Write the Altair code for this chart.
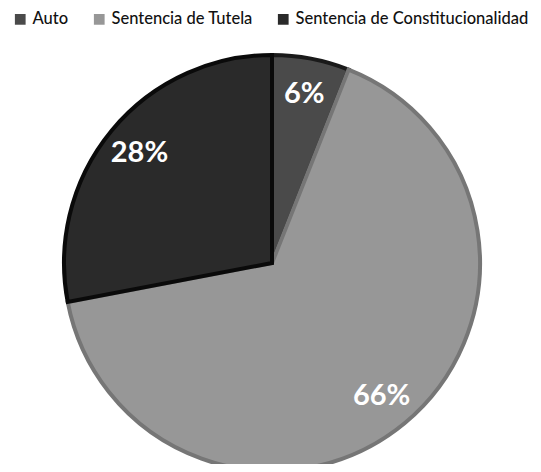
import altair as alt
import pandas as pd

categories = ["Auto", "Sentencia de Tutela", "Sentencia de Constitucionalidad"]
values = [6, 66, 28]
labels = ["6%", "66%", "28%"]
order = [0, 1, 2]

df = pd.DataFrame({"cat": categories, "val": values, "lab": labels, "ord": order})

fills = ["#4a4a4a", "#979797", "#2a2a2a"]
strokes = ["#1a1a1a", "#767676", "#0a0a0a"]

base = alt.Chart(df).encode(
    theta=alt.Theta("val:Q", stack=True),
    order=alt.Order("ord:Q"),
)

pie = base.mark_arc(strokeWidth=4, strokeJoin="miter").encode(
    x=alt.value(264),
    y=alt.value(255),
    radius=alt.value(208),
    fill=alt.Fill(
        "cat:N",
        sort=categories,
        scale=alt.Scale(domain=categories, range=fills),
        legend=alt.Legend(
            title=None,
            orient="none",
            legendX=4,
            legendY=3,
            direction="horizontal",
            symbolType="square",
            symbolSize=115,
            symbolStrokeWidth=0,
            labelFont="Lato",
            labelFontSize=16.5,
            labelFontWeight=500,
            labelColor="#111111",
            labelLimit=0,
            columnPadding=22,
            labelOffset=4,
            padding=0,
        ),
    ),
    stroke=alt.Stroke("cat:N", scale=alt.Scale(domain=categories, range=strokes), legend=None),
)

text = base.mark_text(font="Lato", fontSize=29, fontWeight="bold", color="white").encode(
    x=alt.value(264),
    y=alt.value(255),
    radius=alt.value(172),
    text="lab:N",
)

chart = (pie + text).properties(
    width=525, height=456, padding=0, background="white",
    autosize=alt.AutoSizeParams(type="none")
).configure_view(stroke=None)

chart.save("out.html", embed_options={"renderer": "svg", "actions": False})
